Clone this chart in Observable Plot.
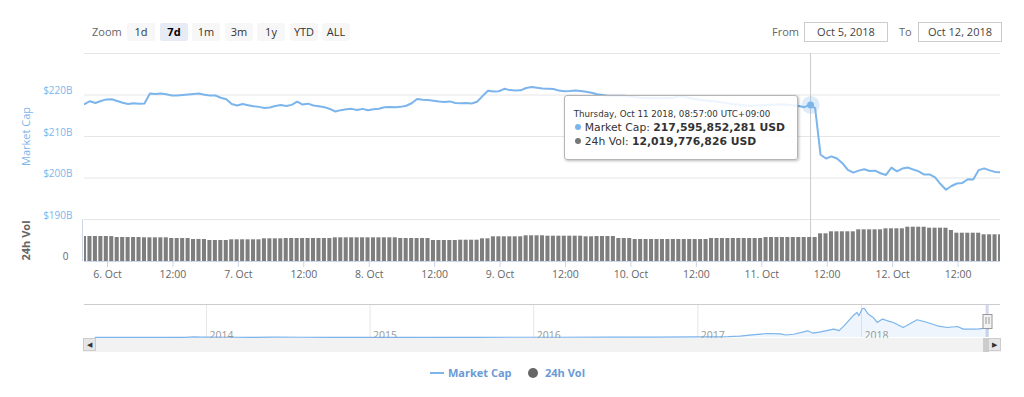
<!DOCTYPE html>
<html>
<head>
<meta charset="utf-8">
<script src="https://cdn.jsdelivr.net/npm/d3@7"></script>
<script src="https://cdn.jsdelivr.net/npm/@observablehq/plot@0.6"></script>
<style>
  html,body{margin:0;padding:0;background:#fff;}
  #chart{position:relative;width:1024px;height:397px;overflow:hidden;font-family:"Open Sans",sans-serif;color:#333;}
  #chart svg{position:absolute;left:0;top:0;}
  .abs{position:absolute;white-space:nowrap;}
  .lbl{top:23px;line-height:18px;font-size:11px;color:#666;}
  .btn{top:23px;height:18px;width:28px;background:#f7f7f7;text-align:center;font-size:11px;line-height:18px;color:#333;border-radius:2px;}
  .btn.sel{background:#e6ebf5;font-weight:bold;color:#000;}
  .inp{top:22px;height:18px;width:82px;border:1px solid #cccccc;font-size:11px;line-height:18px;text-align:center;color:#444;background:#fff;}
  #tip{position:absolute;background:rgba(255,255,255,0.86);border:1px solid #b5b5b5;border-radius:3px;box-shadow:1px 1px 3px rgba(0,0,0,0.28);padding:11px 12px 10px 9px;color:#333;white-space:nowrap;font-family:"DejaVu Sans",sans-serif;}
  #tip .hd{font-size:8.7px;line-height:14px;height:14px;}
  #tip .row{font-size:10.8px;line-height:14px;height:14px;}
  #tip .dot{display:inline-block;width:6px;height:6px;border-radius:50%;margin:0 4px 1px 1px;vertical-align:middle;}
  .sb{position:absolute;}
</style>
</head>
<body>
<div id="chart"></div>
<script>
// ---------------- data ----------------
const capStart = "2018-10-05T19:47:00Z";          // first hourly sample
const capBillions = [
  217.79,218.51,218.08,218.56,218.94,218.97,218.56,218.15,217.82,218.01,
  217.91,217.96,220.38,220.26,220.38,220.19,219.88,219.86,219.98,220.10,
  220.24,220.36,220.07,219.88,219.88,219.33,218.97,217.84,217.48,217.84,
  217.55,217.29,217.14,216.88,217.00,217.36,217.58,217.34,217.62,218.39,
  217.70,217.91,217.48,217.31,217.07,216.64,216.02,216.35,216.59,216.66,
  216.40,216.66,216.33,216.59,216.69,217.05,217.12,217.07,217.14,217.41,
  218.01,219.04,218.87,218.82,218.63,218.44,218.30,218.46,218.06,218.01,
  218.08,217.96,218.37,219.74,221.01,220.82,220.91,221.49,221.18,221.06,
  221.13,221.68,221.92,221.75,221.56,221.49,221.44,221.06,220.91,220.96,
  221.08,220.98,220.79,220.55,220.19,220.00,219.83,219.83,219.83,219.81,
  219.66,219.50,219.35,219.30,219.26,219.21,219.26,219.30,219.35,219.71,
  219.59,219.23,219.02,218.80,218.66,218.54,218.39,218.18,217.98,217.76,
  217.67,217.55,217.43,217.48,217.53,217.60,217.65,217.70,217.74,217.65,
  217.53,217.34,217.07,217.60,216.83,205.60,204.69,205.22,204.69,203.56,
  201.95,201.28,201.78,202.10,201.69,201.76,201.14,200.73,202.49,201.60,
  202.27,202.54,202.03,201.60,200.83,200.86,200.16,198.55,197.18,198.07,
  198.67,198.82,199.70,199.65,201.90,202.31,201.83,201.47,201.38
];
const volBillions = [
  12.50,12.50,12.50,12.50,12.50,12.45,12.00,12.00,12.00,12.00,
  12.00,11.85,11.85,11.85,11.85,11.85,11.50,11.50,11.50,11.50,
  11.00,11.00,11.00,10.50,10.50,10.50,10.50,10.85,10.85,10.85,
  10.85,10.85,10.85,11.35,11.35,11.35,11.35,11.50,11.50,11.50,
  11.50,11.50,11.50,11.50,11.50,11.50,11.85,11.85,11.85,11.85,
  11.85,11.85,11.85,11.85,11.85,11.85,11.85,11.85,11.50,11.50,
  11.50,11.50,11.50,11.50,10.50,10.50,10.50,10.50,10.50,10.65,
  10.65,10.65,10.65,11.35,11.35,12.35,12.35,12.35,12.35,12.35,
  12.35,12.85,12.85,12.85,12.85,12.65,12.65,12.65,12.65,12.65,
  12.65,12.65,12.35,12.35,12.50,12.50,12.50,12.50,11.50,11.50,
  11.50,11.00,11.00,11.00,11.00,11.00,11.00,11.00,11.00,11.00,
  11.00,11.00,11.00,11.00,11.00,11.50,11.50,11.50,11.50,11.50,
  11.50,11.50,11.50,11.50,11.50,12.00,12.00,12.00,12.00,12.00,
  12.00,12.00,12.00,12.02,12.00,13.85,13.85,14.85,14.85,14.85,
  14.85,14.85,15.85,15.85,15.85,15.85,15.85,16.35,16.35,16.35,
  16.35,17.15,17.15,17.15,17.15,16.65,16.65,16.65,16.65,15.50,
  14.15,14.15,14.15,14.15,14.15,13.35,13.35,13.35,13.35
];
const capTickValues = [190, 200, 210, 220];
const capTickLabels = ["$190B", "$200B", "$210B", "$220B"];
const capGridValues = [190, 200, 210, 220, 230];
const volTickValues = [0];
const volTickLabels = ["0"];
const xTickDates = ["2018-10-06T00:00Z","2018-10-06T12:00Z","2018-10-07T00:00Z","2018-10-07T12:00Z",
  "2018-10-08T00:00Z","2018-10-08T12:00Z","2018-10-09T00:00Z","2018-10-09T12:00Z","2018-10-10T00:00Z",
  "2018-10-10T12:00Z","2018-10-11T00:00Z","2018-10-11T12:00Z","2018-10-12T00:00Z","2018-10-12T12:00Z"];
const xTickLabels = ["6. Oct","12:00","7. Oct","12:00","8. Oct","12:00","9. Oct","12:00","10. Oct",
  "12:00","11. Oct","12:00","12. Oct","12:00"];
const hoverTime = "2018-10-11T08:57:00Z";
const hoverCap = 217595852281;
const hoverVol = 12019776826;
const hoverHeader = "Thursday, Oct 11 2018, 08:57:00 UTC+09:00";
const rangeFrom = "2018-10-05T19:47:00Z";
const rangeTo = "2018-10-12T19:47:00Z";
const rangeLabels = ["Oct 5, 2018", "Oct 12, 2018"];
const zoomButtons = ["1d", "7d", "1m", "3m", "1y", "YTD", "ALL"];
const zoomSelected = "7d";
const seriesNames = ["Market Cap", "24h Vol"];
const seriesColors = ["#7cb5ec", "#666666"];
const navDomain = ["2013-04-04", "2018-11-07"];
const navDates = ["2013-04-28","2013-06-01","2013-08-01","2013-10-01","2013-11-15","2013-12-04","2013-12-20",
  "2014-01-05","2014-02-25","2014-04-10","2014-06-01","2014-08-01","2014-10-05","2014-12-01",
  "2015-01-14","2015-03-01","2015-05-01","2015-07-10","2015-09-01","2015-11-05",
  "2016-01-01","2016-03-01","2016-06-18","2016-08-01","2016-10-01","2016-12-31",
  "2017-02-15","2017-03-10","2017-04-05","2017-05-08","2017-06-05","2017-07-04","2017-07-16","2017-08-03",
  "2017-09-03","2017-09-15","2017-10-02","2017-10-31","2017-11-12","2017-11-23","2017-12-13","2017-12-22",
  "2017-12-26","2018-01-03","2018-01-07","2018-01-16","2018-01-27","2018-02-05","2018-02-17","2018-02-28",
  "2018-03-13","2018-04-04","2018-05-05","2018-05-28","2018-06-19","2018-07-11","2018-08-03","2018-08-16",
  "2018-09-08","2018-09-20","2018-10-04","2018-10-12"];
const navBillions = [1.5,1.3,1.3,1.6,5.5,15,8,
  11,7.5,5,8.5,7.6,4.8,5.2,
  3,3.8,3.4,4.5,3.9,6.5,
  7,7.5,12,10,10.5,17.5,
  18,24,40,80,111,103,70,90,
  186,120,158,233,190,325,603,695,
  603,806,813,650,556,417,512,464,
  417,278,492,417,325,278,306,233,
  233,240,261,240];
const navYearDates = ["2014-01-01", "2015-01-01", "2016-01-01", "2017-01-01", "2018-01-01"];
const navYearLabels = ["2014", "2015", "2016", "2017", "2018"];

// ---------------- build ----------------
const W = 1024, H = 397, ML = 84, MR = 24;
const FONT = "'Open Sans', sans-serif";
const baseStyle = {background: "transparent", fontFamily: FONT, fontSize: "10px", overflow: "visible"};
const t0 = +new Date(capStart);
const capData = capBillions.map((v, i) => ({date: new Date(t0 + i * 3600e3), value: v * 1e9}));
const volData = volBillions.map((v, i) => ({date: new Date(t0 + i * 3600e3), value: v * 1e9}));
const xDomain = [new Date(rangeFrom), new Date(rangeTo)];
const hoverDate = new Date(hoverTime);
const xLabelMap = new Map(xTickDates.map((d, i) => [+new Date(d), xTickLabels[i]]));

const mainPlot = Plot.plot({
  width: W, height: H, marginTop: 53, marginBottom: 178, marginLeft: ML, marginRight: MR,
  style: baseStyle,
  x: {type: "utc", domain: xDomain, axis: null},
  y: {domain: [190e9, 230e9], axis: null},
  marks: [
    Plot.gridY(capGridValues.map(v => v * 1e9), {stroke: "#e6e6e6", strokeOpacity: 1}),
    Plot.axisY(capTickValues.map(v => v * 1e9), {
      tickSize: 0, tickPadding: 12, dy: -4, fill: seriesColors[0], fontSize: 10, label: null,
      tickFormat: v => capTickLabels[capTickValues.indexOf(Math.round(v / 1e9))]
    }),
    Plot.text([seriesNames[0]], {frameAnchor: "left", textAnchor: "middle", rotate: -90, dx: -58, fill: seriesColors[0], fontSize: 11}),
    Plot.ruleX([hoverDate], {stroke: "#cccccc"}),
    Plot.lineY(capData, {x: "date", y: "value", stroke: seriesColors[0], strokeWidth: 2, clip: true}),
    Plot.dot([{date: hoverDate, value: hoverCap}], {x: "date", y: "value", r: 9, fill: seriesColors[0], fillOpacity: 0.25}),
    Plot.dot([{date: hoverDate, value: hoverCap}], {x: "date", y: "value", r: 3.5, fill: seriesColors[0]})
  ]
});

const volPlot = Plot.plot({
  width: W, height: H, marginTop: 219, marginBottom: 136, marginLeft: ML, marginRight: MR,
  style: baseStyle,
  x: {type: "utc", domain: xDomain, axis: null},
  y: {domain: [0, 21e9], axis: null},
  marks: [
    Plot.ruleX([hoverDate], {stroke: "#cccccc"}),
    Plot.rect(volData, {
      x1: d => new Date(+d.date - 1800e3), x2: d => new Date(+d.date + 1800e3),
      y1: () => 0, y2: "value", fill: "#7e7e7e", insetLeft: 0.7, insetRight: 0.7, clip: true
    }),
    Plot.ruleY([0], {stroke: "#ccd6eb"}),
    Plot.ruleX([xDomain[0]], {stroke: "#ccd6eb", dx: -2}),
    Plot.axisX(xTickDates.map(d => new Date(d)), {
      tickSize: 6, tickPadding: 3, stroke: "#ccd6eb", fill: "#666", fontSize: 10.5, label: null,
      tickFormat: d => xLabelMap.get(+d)
    }),
    Plot.axisY(volTickValues, {tickSize: 0, tickPadding: 16, dy: -5, fill: "#666", fontSize: 10, label: null,
      tickFormat: v => volTickLabels[volTickValues.indexOf(v)]}),
    Plot.text([seriesNames[1]], {frameAnchor: "left", textAnchor: "middle", rotate: -90, dx: -58, fill: "#666", fontWeight: "bold", fontSize: 11})
  ]
});

const navData = navDates.map((d, i) => ({date: new Date(d), value: navBillions[i]}));
const navTop = 917;
function navHandle(index, scales, values, dims) {
  const xa = scales.x(new Date(rangeFrom)), xb = scales.x(new Date(rangeTo));
  const cx = Math.round((xa + xb) / 2) + 0.5;
  const cy = (dims.marginTop + dims.height - dims.marginBottom) / 2;
  const g = d3.create("svg:g");
  g.append("rect").attr("x", cx - 4.5).attr("y", Math.round(cy - 7) + 0.5).attr("width", 9).attr("height", 14)
    .attr("fill", "#f2f2f2").attr("stroke", "#999");
  g.append("path").attr("d", `M${cx - 1.5},${cy - 3.5}V${cy + 3.5}M${cx + 1.5},${cy - 3.5}V${cy + 3.5}`)
    .attr("stroke", "#999").attr("fill", "none");
  return g.node();
}
const navPlot = Plot.plot({
  width: W, height: H, marginTop: 304, marginBottom: 60, marginLeft: ML, marginRight: MR,
  style: baseStyle,
  x: {type: "utc", domain: navDomain.map(d => new Date(d)), axis: null},
  y: {domain: [0, navTop], axis: null},
  marks: [
    Plot.gridX(navYearDates.map(d => new Date(d)), {stroke: "#e6e6e6", strokeOpacity: 1}),
    Plot.areaY(navData, {x: "date", y: "value", fill: seriesColors[0], fillOpacity: 0.13}),
    Plot.lineY(navData, {x: "date", y: "value", stroke: seriesColors[0], strokeWidth: 1.2}),
    Plot.text(navYearDates, {x: d => new Date(d), text: (d, i) => navYearLabels[i], frameAnchor: "bottom",
      textAnchor: "start", lineAnchor: "bottom", dx: 3, dy: 1, fill: "#999", fontSize: 10.5}),
    Plot.rect([rangeFrom], {x1: () => new Date(rangeFrom), x2: () => new Date(rangeTo), fill: "#6685c2", fillOpacity: 0.3}),
    Plot.ruleY([navTop], {stroke: "#cccccc"}),
    navHandle
  ]
});

const chart = document.getElementById("chart");
chart.append(mainPlot, volPlot, navPlot);

// scrollbar under navigator
const nx = navPlot.scale("x");
function div(cls, css, html) {
  const e = document.createElement("div");
  e.className = cls; e.style.cssText = css; if (html != null) e.innerHTML = html;
  chart.append(e); return e;
}
div("sb", `left:83px;top:338px;width:918px;height:14px;background:#f2f2f2;`);
div("sb", `left:83px;top:338px;width:13px;height:13px;background:#e6e6e6;border:1px solid #cccccc;box-sizing:border-box;font-size:7px;line-height:12px;text-align:center;color:#333;`, "&#9664;");
const thA = nx.apply(new Date(rangeFrom)), thB = nx.apply(new Date(rangeTo));
div("sb", `left:${Math.round(thA) - 3}px;top:338px;width:${Math.max(6, Math.round(thB - thA))}px;height:14px;background:#cccccc;`);
div("sb", `left:988px;top:338px;width:13px;height:13px;background:#e6e6e6;border:1px solid #cccccc;box-sizing:border-box;font-size:7px;line-height:12px;text-align:center;color:#333;`, "&#9654;");

// range selector
div("abs lbl", `left:92px;`, "Zoom");
zoomButtons.forEach((b, i) => {
  div("abs btn" + (b === zoomSelected ? " sel" : ""), `left:${Math.round(127 + i * 32.5)}px;`, b);
});
div("abs lbl", `left:772px;`, "From");
div("abs inp", `left:804px;`, rangeLabels[0]);
div("abs lbl", `left:899px;`, "To");
div("abs inp", `left:918px;`, rangeLabels[1]);

// tooltip anchored to hovered point
const mx = mainPlot.scale("x"), my = mainPlot.scale("y");
const px = mx.apply(hoverDate), py = my.apply(hoverCap);
const fmt = d3.format(",");
const tip = div("", `right:${W - (px - 12)}px;top:${py - 9.5}px;`, "");
tip.id = "tip";
tip.innerHTML = `<div class="hd">${hoverHeader}</div>` +
  `<div class="row"><span class="dot" style="background:${seriesColors[0]}"></span>${seriesNames[0]}: <b>${fmt(hoverCap)} USD</b></div>` +
  `<div class="row"><span class="dot" style="background:#777"></span>${seriesNames[1]}: <b>${fmt(hoverVol)} USD</b></div>`;

// legend
div("abs", `left:430px;top:372px;width:14px;height:2px;background:${seriesColors[0]};`);
div("abs", `left:448px;top:365px;font-size:11px;line-height:16px;font-weight:bold;color:#6a9ad6;`, seriesNames[0]);
div("abs", `left:528px;top:368px;width:10px;height:10px;border-radius:50%;background:${seriesColors[1]};`);
div("abs", `left:545px;top:365px;font-size:11px;line-height:16px;font-weight:bold;color:#6a9ad6;`, seriesNames[1]);
</script>
</body>
</html>
